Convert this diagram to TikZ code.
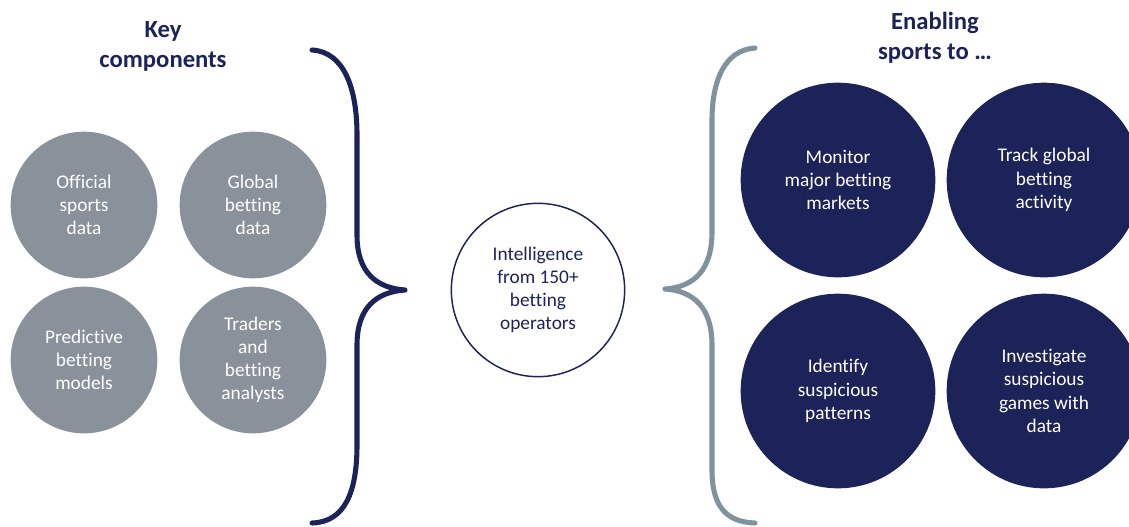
\documentclass[tikz,border=0pt]{standalone}
\usepackage{fontspec}
\setmainfont{Carlito}[Ligatures=NoCommon]
\usetikzlibrary{positioning}
\definecolor{my_navy}{RGB}{27, 35, 89}
\definecolor{my_grey}{RGB}{137, 145, 155}
\definecolor{my_steel}{RGB}{127, 146, 158}
\tikzset {
  component/.style = {circle, fill=my_grey, text=white, minimum size=110pt, inner sep=0pt, align=center, font=\fontsize{14.5}{17.4}\selectfont},
  goal/.style = {circle, fill=my_navy, text=white, minimum size=146pt, inner sep=0pt, align=center, font=\fontsize{14.5}{17.4}\selectfont},
  hub/.style = {circle, draw=my_navy, line width=1.1pt, text=my_navy, minimum size=130pt, inner sep=0pt, align=center, font=\fontsize{14.5}{17.4}\selectfont},
  heading/.style = {text=my_navy, align=center, font=\bfseries\fontsize{18.5}{22.5}\selectfont},
  brace/.style = {line width=3.8pt, line cap=round, line join=round}
}

\begin{document}
\begin{tikzpicture}[x=0.75pt, y=-0.75pt]
    \useasboundingbox (0,0) rectangle (1129,526);

    % left side
    \node[heading] (keyhead) at (163,46) {Key\\components};
    \node[component] (official) at (84,205) {Official\\sports\\data};
    \node[component] (global) at (253,205) {Global\\betting\\data};
    \node[component] (predictive) at (84,360) {Predictive\\betting\\models};
    \node[component] (traders) at (253,360) {Traders\\and\\betting\\analysts};

    \draw[brace, my_navy] (312,50) .. controls (345,52) and (357,90) .. (357,135)
        -- (357,235) .. controls (357,272) and (376,288) .. (405,290)
        .. controls (376,292) and (357,308) .. (357,345)
        -- (357,445) .. controls (357,492) and (345,522) .. (312,523);

    % centre
    \node[hub] (intel) at (538,290) {Intelligence\\from 150+\\betting\\operators};

    % right side
    \draw[brace, my_steel] (755,48) .. controls (725,50) and (712,80) .. (712,120)
        -- (712,232) .. controls (712,270) and (694,287) .. (665,289)
        .. controls (694,291) and (712,308) .. (712,345)
        -- (712,470) .. controls (712,505) and (725,522) .. (755,523);

    \node[heading] (enablehead) at (935,38) {Enabling\\sports to \dots};
    \node[goal] (monitor) at (838,180) {Monitor\\major betting\\markets};
    \node[goal] (track) at (1044,180) {Track global\\betting\\activity};
    \node[goal] (identify) at (838,391) {Identify\\suspicious\\patterns};
    \node[goal] (investigate) at (1044,391) {Investigate\\suspicious\\games with\\data};

\end{tikzpicture}
\end{document}
